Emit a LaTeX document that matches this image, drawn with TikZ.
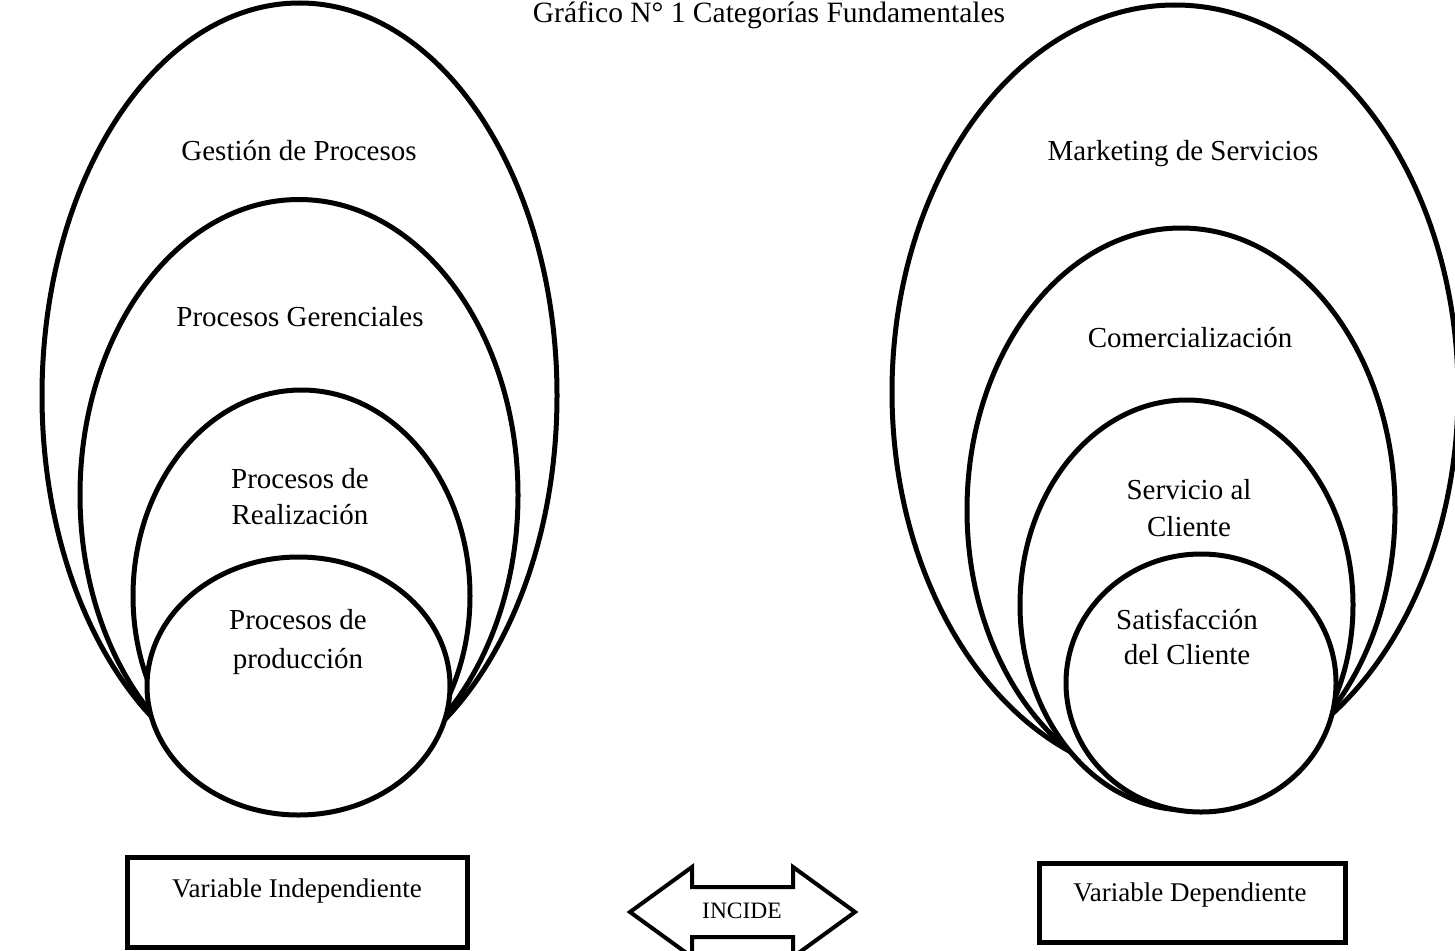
\documentclass[tikz,border=0pt]{standalone}
\usepackage{fontspec}
\setmainfont{Liberation Serif}
\usetikzlibrary{shapes.geometric}
\begin{document}
\begin{tikzpicture}[x=1pt,y=-1pt,
  ring/.style={ellipse, draw, line width=5pt, fill=white, inner sep=0pt, outer sep=0pt},
  lbl/.style={font=\fontsize{29}{36}\selectfont, align=center, inner sep=0pt, anchor=base},
  boxlbl/.style={font=\fontsize{27}{30}\selectfont, inner sep=0pt, anchor=base},
  varbox/.style={draw, line width=5pt, fill=white, inner sep=0pt, outer sep=0pt},
  arrowline/.style={draw, line width=4pt, line join=miter, fill=white}]
\useasboundingbox (0,0) rectangle (1455,950);
\clip (0,0) rectangle (1455,950);

% title
\node[lbl, font=\fontsize{29.5}{36}\selectfont] (title) at (769,23) {Gráfico N° 1 Categorías Fundamentales};

% left group: independent variable (base anchor = baseline of the last line)
\node[ring, minimum width=515pt, minimum height=785pt] (gp)  at (299.5,395.5) {};
\node[ring, minimum width=438pt, minimum height=591pt] (pg)  at (299,495) {};
\node[ring, minimum width=337pt, minimum height=412pt] (pr)  at (301.5,596) {};
\node[ring, minimum width=303pt, minimum height=258pt] (pp)  at (298.5,686) {};
\node[lbl] (gpt) at (299,160) {Gestión de Procesos};
\node[lbl] (pgt) at (300,326) {Procesos Gerenciales};
\node[lbl] (prt) at (300,524) {Procesos de\\Realización};
\node[lbl, font=\fontsize{29}{39}\selectfont] (ppt) at (298,668) {Procesos de\\producción};

% right group: dependent variable
\node[ring, minimum width=566pt, minimum height=774pt] (ms)  at (1175,392) {};
\node[ring, minimum width=428pt, minimum height=564pt] (co)  at (1181,510) {};
\node[ring, minimum width=333pt, minimum height=410pt] (sc)  at (1186.5,605) {};
\node[ring, minimum width=270pt, minimum height=258pt] (sa)  at (1201,683) {};
\node[lbl] (mst) at (1183,160) {Marketing de Servicios};
\node[lbl] (cot) at (1190,347) {Comercialización};
\node[lbl, font=\fontsize{29}{37}\selectfont] (sct) at (1189,536) {Servicio al\\Cliente};
\node[lbl, font=\fontsize{29}{35}\selectfont] (sat) at (1187,664) {Satisfacción\\del Cliente};

% variable boxes
\node[varbox, minimum width=340pt, minimum height=90pt] (vi) at (297,902) {};
\node[varbox, minimum width=306pt, minimum height=79pt] (vd) at (1192,902.5) {};
\node[boxlbl] (vit) at (297,897) {Variable Independiente};
\node[boxlbl] (vdt) at (1190,901) {Variable Dependiente};

% double arrow between the groups
\coordinate (ltip) at (630,912);
\coordinate (rtip) at (855,912);
\path[arrowline] (ltip) -- (692,867) -- (692,887) -- (793,887) -- (793,867)
  -- (rtip) -- (793,957) -- (793,937) -- (692,937) -- (692,957) -- cycle;
\node[boxlbl, font=\fontsize{23.5}{26}\selectfont] (inc) at (742,918) {INCIDE};
\end{tikzpicture}
\end{document}
